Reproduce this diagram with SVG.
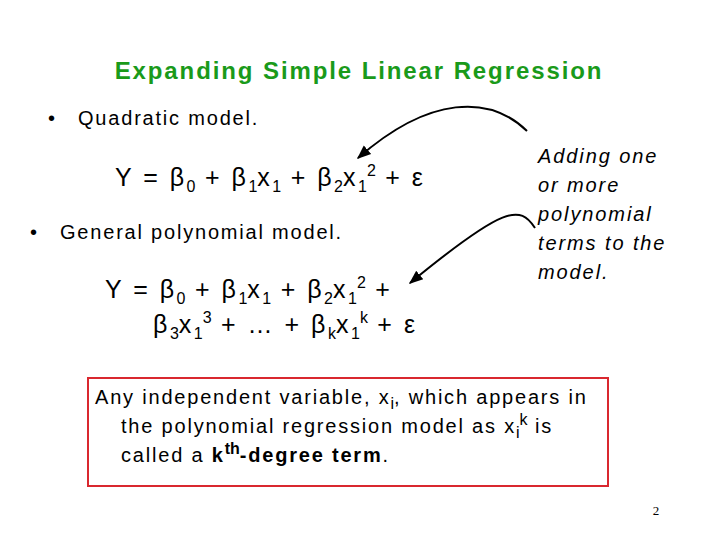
<svg xmlns="http://www.w3.org/2000/svg" width="720" height="540" viewBox="0 0 720 540">
<defs>
<style>
text{font-family:"Liberation Sans",Arial,sans-serif;fill:#000}
.t{font-size:25px;letter-spacing:2.5px}
.s{font-size:16px;letter-spacing:0}
.b{font-size:20px;letter-spacing:1.8px}
.i{font-size:20px;font-style:italic;letter-spacing:1.9px}
</style>
<marker id="ah" viewBox="0 0 10 10" refX="9" refY="5" markerWidth="7" markerHeight="7" orient="auto-start-reverse"><path d="M0,1 L10,5 L0,9 z" fill="#000"/></marker>
</defs>
<rect width="720" height="540" fill="#fff"/>
<text x="359" y="79" text-anchor="middle" style="font-size:24px;font-weight:bold;fill:#1a9a1a;letter-spacing:1.9px">Expanding Simple Linear Regression</text>
<g id="bullet1"><text x="48" y="125" class="b">•<tspan x="78">Quadratic model.</tspan></text></g>
<g id="eq1"><text x="115" y="186" class="t">Y = β<tspan class="s" dy="6">0</tspan><tspan dy="-6"> + β</tspan><tspan class="s" dy="6">1</tspan><tspan dy="-6">x</tspan><tspan class="s" dy="6">1</tspan><tspan dy="-6"> + β</tspan><tspan class="s" dy="6">2</tspan><tspan dy="-6">x</tspan><tspan class="s" dy="6">1</tspan><tspan class="s" dy="-16">2</tspan><tspan dy="10"> + ε</tspan></text></g>
<g id="bullet2"><text x="30" y="239" class="b">•<tspan x="60">General polynomial model.</tspan></text></g>
<g id="eq2"><text x="105" y="298" class="t">Y =  β<tspan class="s" dy="6">0</tspan><tspan dy="-6"> + β</tspan><tspan class="s" dy="6">1</tspan><tspan dy="-6">x</tspan><tspan class="s" dy="6">1</tspan><tspan dy="-6"> + β</tspan><tspan class="s" dy="6">2</tspan><tspan dy="-6">x</tspan><tspan class="s" dy="6">1</tspan><tspan class="s" dy="-16">2</tspan><tspan dy="10"> +</tspan></text>
<text x="153" y="333" class="t">β<tspan class="s" dy="6">3</tspan><tspan dy="-6">x</tspan><tspan class="s" dy="6">1</tspan><tspan class="s" dy="-16">3</tspan><tspan dy="10"> + … + β</tspan><tspan class="s" dy="6">k</tspan><tspan dy="-6">x</tspan><tspan class="s" dy="6">1</tspan><tspan class="s" dy="-16">k</tspan><tspan dy="10"> + ε</tspan></text></g>
<g id="note"><text class="i"><tspan x="538" y="163">Adding one</tspan><tspan x="538" y="192">or more</tspan><tspan x="538" y="221">polynomial</tspan><tspan x="538" y="250">terms to the</tspan><tspan x="538" y="279">model.</tspan></text></g>
<g id="connectors" fill="none" stroke="#000" stroke-width="2">
<path d="M527,131 C490,95 430,95 358,158" marker-end="url(#ah)"/>
<path d="M535,228 C520,205 505,205 410,283" marker-end="url(#ah)"/>
</g>
<g id="box"><rect x="88" y="378" width="520" height="108" fill="none" stroke="#d9282f" stroke-width="2"/>
<text class="b"><tspan x="95" y="404">Any independent variable, x</tspan><tspan class="s" dy="5">i</tspan><tspan dy="-5">, which appears in</tspan></text>
<text class="b"><tspan x="121" y="433">the polynomial regression model as x</tspan><tspan class="s" dy="5">i</tspan><tspan class="s" dy="-13">k</tspan><tspan dy="8"> is</tspan></text>
<text class="b"><tspan x="121" y="462">called a </tspan><tspan font-weight="bold">k</tspan><tspan font-weight="bold" class="s" dy="-8">th</tspan><tspan font-weight="bold" dy="8">-degree term</tspan><tspan>.</tspan></text></g>
<text x="656" y="515" text-anchor="middle" style="font-family:'Liberation Serif',serif;font-size:13px">2</text>
</svg>
